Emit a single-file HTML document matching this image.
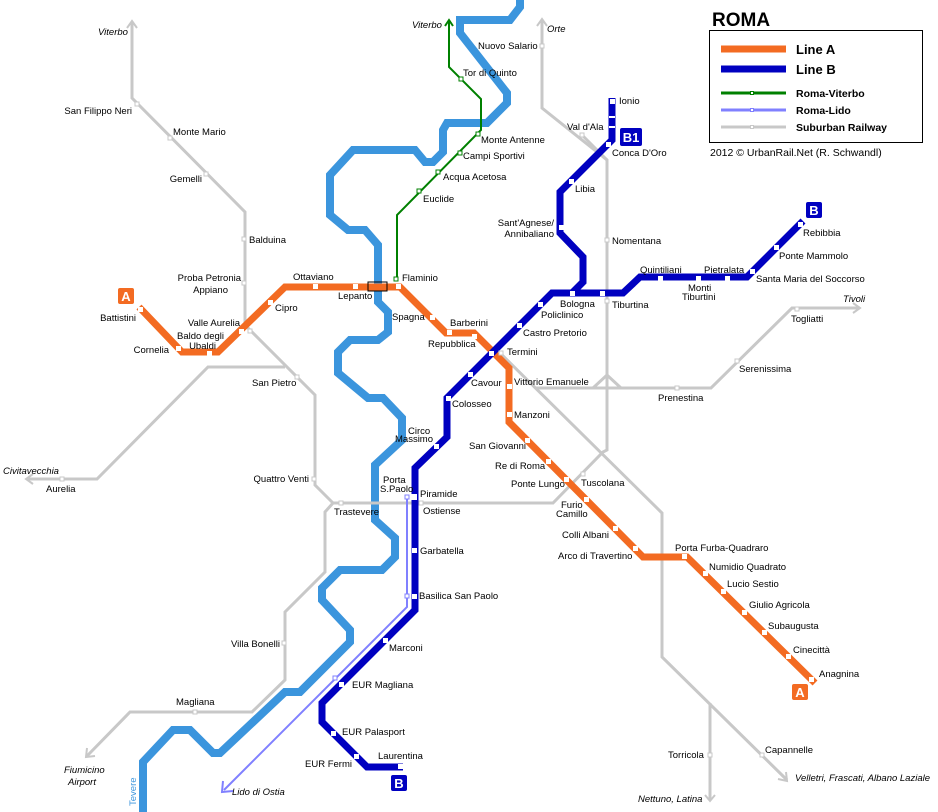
<!DOCTYPE html>
<html><head><meta charset="utf-8"><style>
body{margin:0;background:#fff}
svg{display:block}
text{font-family:"Liberation Sans",sans-serif;font-size:9.5px;fill:#000}
.i{font-style:italic}
.e{text-anchor:end}
</style></head><body>
<svg width="938" height="812" viewBox="0 0 938 812" xmlns="http://www.w3.org/2000/svg">
<polyline fill="none" stroke="#3b95dd" stroke-width="8" stroke-linejoin="miter" points="520,0 520,7 510,20 460,20 460,33 507,93 507,103 487,123 447,123 443,130 443,152 433,162 425,162 415,150 353,150 330,175 330,215 348,230 365,230 378,245 378,302 388,312 388,332 378,340 350,340 338,352 338,373 368,398 383,398 402,418 402,440 375,465 375,520 395,538 395,557 382,570 340,570 322,588 322,600 350,630 350,642 300,692 285,692 220,753 213,753 190,730 173,730 143,762 143,812"/>
<text x="0" y="0" transform="translate(136,806) rotate(-90)" style="fill:#3b95dd">Tevere</text>
<g fill="none" stroke="#c8c8c8" stroke-width="3">
<polyline points="132,22 132,98 245,212 245,325 315,395 315,485 333,503 325,512 325,572 285,612 285,680 252,712 130,712 87,756"/>
<polyline points="333,503 553,503 603,452 607,450 607,160 542,108 542,20"/>
<polyline points="582,135 607,160"/>
<polyline points="27,479 97,479 208,367 285,367"/>
<polyline points="500,353 662,513 662,657 787,780"/>
<polyline points="710,703 710,800"/>
<polyline points="535,388 711,388 792,308 860,308"/>
<polyline points="593,388 607,375 621,388"/>
</g>
<g fill="none" stroke="#c8c8c8" stroke-width="2">
<polyline points="127,28 132,21 137,28"/><polyline points="537,26 542,19 547,26"/>
<polyline points="853,303 860,308 853,313"/><polyline points="33,474 26,479 33,484"/>
<polyline points="87,748 86,757 95,756"/><polyline points="705,795 710,801 715,795"/>
<polyline points="778,779 787,781 786,772"/>
</g>
<polyline fill="none" stroke="#8080ff" stroke-width="2" points="407,497 407,607 224,790"/>
<polyline fill="none" stroke="#8080ff" stroke-width="2" points="223,781 222,792 233,791"/>
<polyline fill="none" stroke="#008000" stroke-width="2" points="449,20 449,67 481,99 481,130 397,215 397,279"/>
<polyline fill="none" stroke="#008000" stroke-width="2" points="445,26 449,20 453,26"/>
<polyline fill="none" stroke="#f36b22" stroke-width="7" points="139,307 182,352 218,352 285,287 400,287 446,333 474,333 509,368 509,422 643,557 687,557 815,683"/>
<polyline fill="none" stroke="#0000c0" stroke-width="7" points="403,767 367,767 322,722 322,703 415,610 415,468 447,437 447,398 552,293 623,293 640,277 747,277 803,221"/>
<polyline fill="none" stroke="#0000c0" stroke-width="7" points="572,293 583,282 583,257 560,233 560,192 612,140 612,98"/>
<g fill="#fff">
<rect x="138" y="307" width="5" height="5"/><rect x="176" y="346" width="5" height="5"/><rect x="207" y="351" width="5" height="5"/><rect x="239" y="329" width="5" height="5"/><rect x="268" y="300" width="5" height="5"/><rect x="313" y="284" width="5" height="5"/><rect x="353" y="284" width="5" height="5"/><rect x="396" y="284" width="5" height="5"/><rect x="430" y="315" width="5" height="5"/><rect x="447" y="330" width="5" height="5"/><rect x="472" y="334" width="5" height="5"/><rect x="507" y="384" width="5" height="5"/><rect x="507" y="412" width="5" height="5"/><rect x="525" y="438" width="5" height="5"/><rect x="546" y="459" width="5" height="5"/><rect x="564" y="477" width="5" height="5"/><rect x="584" y="497" width="5" height="5"/><rect x="613" y="526" width="5" height="5"/><rect x="633" y="546" width="5" height="5"/><rect x="682" y="554" width="5" height="5"/><rect x="703" y="571" width="5" height="5"/><rect x="721" y="589" width="5" height="5"/><rect x="742" y="610" width="5" height="5"/><rect x="762" y="630" width="5" height="5"/><rect x="786" y="654" width="5" height="5"/><rect x="809" y="677" width="5" height="5"/>
<rect x="398" y="764" width="5" height="5"/><rect x="354" y="754" width="5" height="5"/><rect x="331" y="731" width="5" height="5"/><rect x="339" y="682" width="5" height="5"/><rect x="383" y="638" width="5" height="5"/><rect x="412" y="594" width="5" height="5"/><rect x="412" y="548" width="5" height="5"/><rect x="411" y="494" width="6" height="6"/><rect x="434" y="444" width="5" height="5"/><rect x="446" y="396" width="5" height="5"/><rect x="468" y="372" width="5" height="5"/><rect x="489" y="351" width="5" height="5"/><rect x="517" y="323" width="5" height="5"/><rect x="538" y="302" width="5" height="5"/><rect x="570" y="291" width="5" height="5"/><rect x="600" y="291" width="5" height="5"/><rect x="658" y="276" width="5" height="5"/><rect x="696" y="276" width="5" height="5"/><rect x="725" y="276" width="5" height="5"/><rect x="750" y="269" width="5" height="5"/><rect x="774" y="245" width="5" height="5"/><rect x="798" y="222" width="5" height="5"/><rect x="559" y="225" width="5" height="5"/><rect x="569" y="179" width="5" height="5"/><rect x="606" y="142" width="5" height="5"/><rect x="610" y="99" width="5" height="5"/>
<rect x="609" y="116" width="6" height="2"/><rect x="609" y="126" width="6" height="2"/>
</g>
<g fill="#fff" stroke-width="1">
<g stroke="#c8c8c8">
<rect x="135" y="102" width="4" height="4"/><rect x="168" y="136" width="4" height="4"/><rect x="204" y="172" width="4" height="4"/><rect x="242" y="237" width="4" height="4"/><rect x="242" y="281" width="4" height="4"/><rect x="248" y="329" width="4" height="4"/><rect x="295" y="375" width="4" height="4"/><rect x="312" y="477" width="4" height="4"/><rect x="282" y="641" width="4" height="4"/><rect x="193" y="710" width="4" height="4"/><rect x="60" y="477" width="4" height="4"/><rect x="339" y="501" width="4" height="4"/><rect x="419" y="501" width="4" height="4"/><rect x="499" y="351" width="4" height="4"/><rect x="540" y="44" width="4" height="4"/><rect x="580" y="133" width="4" height="4"/><rect x="605" y="238" width="4" height="4"/><rect x="605" y="299" width="4" height="4"/><rect x="675" y="386" width="4" height="4"/><rect x="735" y="359" width="4" height="4"/><rect x="795" y="307" width="4" height="4"/><rect x="581" y="472" width="4" height="4"/><rect x="708" y="753" width="4" height="4"/><rect x="760" y="753" width="4" height="4"/>
</g>
<g stroke="#008000"><rect x="459" y="77" width="4" height="4"/><rect x="476" y="132" width="4" height="4"/><rect x="458" y="151" width="4" height="4"/><rect x="436" y="170" width="4" height="4"/><rect x="417" y="189" width="4" height="4"/><rect x="394" y="277" width="4" height="4"/></g>
<g stroke="#8080ff"><rect x="405" y="495" width="4" height="4"/><rect x="405" y="594" width="4" height="4"/><rect x="333" y="676" width="4" height="4"/></g>
</g>
<rect x="368" y="282" width="19" height="9" fill="none" stroke="#000" stroke-width="1"/>
<rect x="118" y="288" width="16" height="16" rx="2" fill="#f36b22"/><text x="126" y="301" text-anchor="middle" style="fill:#fff;font-weight:bold;font-size:13px">A</text>
<rect x="792" y="684" width="16" height="16" rx="2" fill="#f36b22"/><text x="800" y="697" text-anchor="middle" style="fill:#fff;font-weight:bold;font-size:13px">A</text>
<rect x="391" y="775" width="16" height="16" rx="2" fill="#0000c0"/><text x="399" y="788" text-anchor="middle" style="fill:#fff;font-weight:bold;font-size:13px">B</text>
<rect x="806" y="202" width="16" height="16" rx="2" fill="#0000c0"/><text x="814" y="215" text-anchor="middle" style="fill:#fff;font-weight:bold;font-size:13px">B</text>
<rect x="620" y="128" width="22" height="18" rx="2" fill="#0000c0"/><text x="631" y="142" text-anchor="middle" style="fill:#fff;font-weight:bold;font-size:13px">B1</text>
<text x="712" y="26" style="font-size:19px;font-weight:bold">ROMA</text>
<rect x="709.5" y="30.5" width="213" height="112" fill="none" stroke="#000"/>
<line x1="721" y1="49" x2="786" y2="49" stroke="#f36b22" stroke-width="7"/>
<line x1="721" y1="69" x2="786" y2="69" stroke="#0000c0" stroke-width="7"/>
<line x1="721" y1="93" x2="786" y2="93" stroke="#008000" stroke-width="3"/>
<line x1="721" y1="110" x2="786" y2="110" stroke="#8080ff" stroke-width="3"/>
<line x1="721" y1="127" x2="786" y2="127" stroke="#c8c8c8" stroke-width="3"/>
<rect x="750.5" y="91.5" width="3" height="3" fill="#fff" stroke="#008000"/>
<rect x="750.5" y="108.5" width="3" height="3" fill="#fff" stroke="#8080ff"/>
<rect x="750.5" y="125.5" width="3" height="3" fill="#fff" stroke="#c8c8c8"/>
<text x="796" y="54" style="font-size:13px;font-weight:bold">Line A</text>
<text x="796" y="74" style="font-size:13px;font-weight:bold">Line B</text>
<text x="796" y="97" style="font-size:10.5px;font-weight:bold">Roma-Viterbo</text>
<text x="796" y="114" style="font-size:10.5px;font-weight:bold">Roma-Lido</text>
<text x="796" y="131" style="font-size:10.5px;font-weight:bold">Suburban Railway</text>
<text x="710" y="156" style="font-size:10.5px">2012 © UrbanRail.Net (R. Schwandl)</text>
<text x="98" y="35" class="i">Viterbo</text>
<text x="132" y="114" class="e">San Filippo Neri</text>
<text x="173" y="135">Monte Mario</text>
<text x="202" y="182" class="e">Gemelli</text>
<text x="249" y="243">Balduina</text>
<text x="241" y="281" class="e">Proba Petronia</text>
<text x="228" y="293" class="e">Appiano</text>
<text x="136" y="321" class="e">Battistini</text>
<text x="240" y="326" class="e">Valle Aurelia</text>
<text x="224" y="339" class="e">Baldo degli</text>
<text x="216" y="349" class="e">Ubaldi</text>
<text x="169" y="353" class="e">Cornelia</text>
<text x="275" y="311">Cipro</text>
<text x="293" y="280">Ottaviano</text>
<text x="338" y="299">Lepanto</text>
<text x="402" y="281">Flaminio</text>
<text x="392" y="320">Spagna</text>
<text x="450" y="326">Barberini</text>
<text x="428" y="347">Repubblica</text>
<text x="252" y="386">San Pietro</text>
<text x="423" y="202">Euclide</text>
<text x="443" y="180">Acqua Acetosa</text>
<text x="463" y="159">Campi Sportivi</text>
<text x="481" y="143">Monte Antenne</text>
<text x="463" y="76">Tor di Quinto</text>
<text x="412" y="28" class="i">Viterbo</text>
<text x="478" y="49">Nuovo Salario</text>
<text x="547" y="32" class="i">Orte</text>
<text x="567" y="130">Val d'Ala</text>
<text x="619" y="104">Ionio</text>
<text x="612" y="156">Conca D'Oro</text>
<text x="575" y="192">Libia</text>
<text x="554" y="226" class="e">Sant'Agnese/</text>
<text x="554" y="237" class="e">Annibaliano</text>
<text x="612" y="244">Nomentana</text>
<text x="560" y="307">Bologna</text>
<text x="612" y="308">Tiburtina</text>
<text x="541" y="318">Policlinico</text>
<text x="523" y="336">Castro Pretorio</text>
<text x="507" y="355">Termini</text>
<text x="471" y="386">Cavour</text>
<text x="514" y="385">Vittorio Emanuele</text>
<text x="452" y="407">Colosseo</text>
<text x="640" y="273">Quintiliani</text>
<text x="704" y="273">Pietralata</text>
<text x="688" y="291">Monti</text>
<text x="682" y="300">Tiburtini</text>
<text x="756" y="282">Santa Maria del Soccorso</text>
<text x="779" y="259">Ponte Mammolo</text>
<text x="803" y="236">Rebibbia</text>
<text x="843" y="302" class="i">Tivoli</text>
<text x="791" y="322">Togliatti</text>
<text x="739" y="372">Serenissima</text>
<text x="658" y="401">Prenestina</text>
<text x="408" y="434">Circo</text>
<text x="395" y="442">Massimo</text>
<text x="3" y="474" class="i">Civitavecchia</text>
<text x="46" y="492">Aurelia</text>
<text x="309" y="482" class="e">Quattro Venti</text>
<text x="383" y="483">Porta</text>
<text x="380" y="492">S.Paolo</text>
<text x="420" y="497">Piramide</text>
<text x="334" y="515">Trastevere</text>
<text x="423" y="514">Ostiense</text>
<text x="420" y="554">Garbatella</text>
<text x="419" y="599">Basilica San Paolo</text>
<text x="231" y="647">Villa Bonelli</text>
<text x="389" y="651">Marconi</text>
<text x="352" y="688">EUR Magliana</text>
<text x="176" y="705">Magliana</text>
<text x="342" y="735">EUR Palasport</text>
<text x="305" y="767">EUR Fermi</text>
<text x="378" y="759">Laurentina</text>
<text x="64" y="773" class="i">Fiumicino</text>
<text x="68" y="785" class="i">Airport</text>
<text x="232" y="795" class="i">Lido di Ostia</text>
<text x="514" y="418">Manzoni</text>
<text x="469" y="449">San Giovanni</text>
<text x="495" y="469">Re di Roma</text>
<text x="511" y="487">Ponte Lungo</text>
<text x="581" y="486">Tuscolana</text>
<text x="561" y="508">Furio</text>
<text x="556" y="517">Camillo</text>
<text x="562" y="538">Colli Albani</text>
<text x="558" y="559">Arco di Travertino</text>
<text x="675" y="551">Porta Furba-Quadraro</text>
<text x="709" y="570">Numidio Quadrato</text>
<text x="727" y="587">Lucio Sestio</text>
<text x="749" y="608">Giulio Agricola</text>
<text x="768" y="629">Subaugusta</text>
<text x="793" y="653">Cinecittà</text>
<text x="819" y="677">Anagnina</text>
<text x="668" y="758">Torricola</text>
<text x="765" y="753">Capannelle</text>
<text x="795" y="781" class="i">Velletri, Frascati, Albano Laziale</text>
<text x="638" y="802" class="i">Nettuno, Latina</text>
</svg>
</body></html>
